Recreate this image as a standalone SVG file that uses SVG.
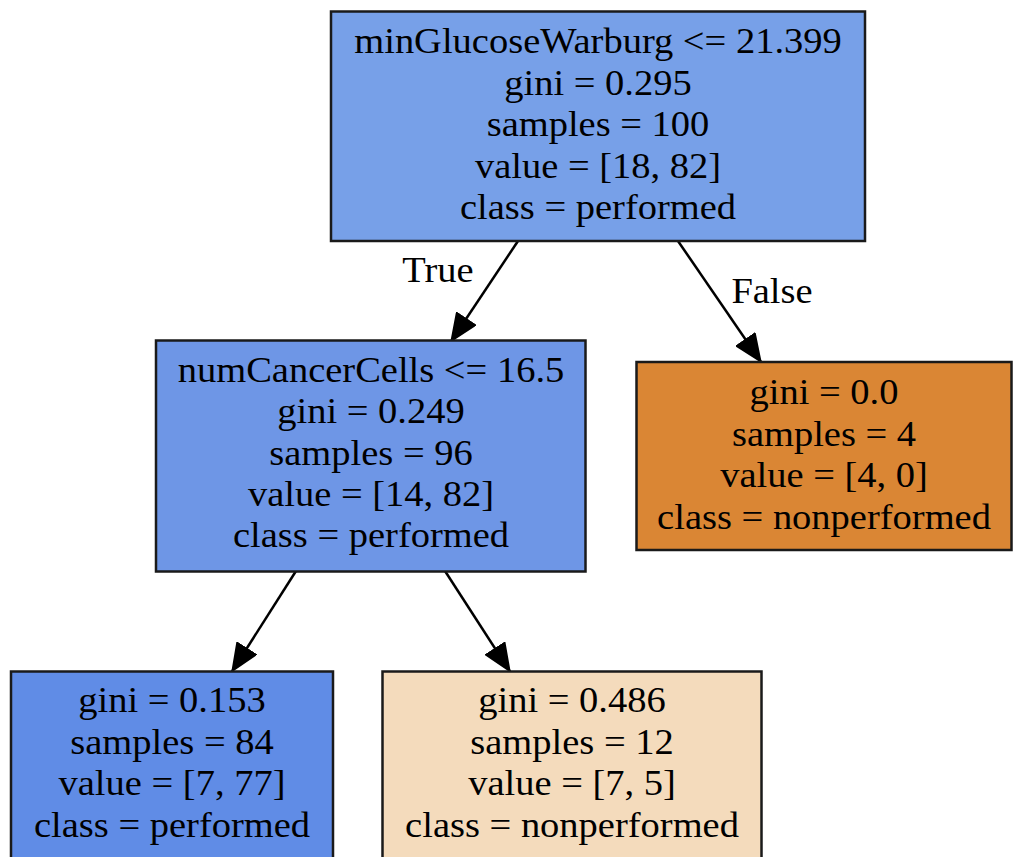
<svg xmlns="http://www.w3.org/2000/svg" width="1013" height="857" viewBox="0 0 1013 857">
<style>
.box{stroke:#1a1a1a;stroke-width:2.5}
.t{font-family:"Liberation Serif","Times New Roman",serif;font-size:35px;fill:#000;text-anchor:middle}
.e{stroke:#000;stroke-width:2.5;fill:none}
</style>
<defs>
<marker id="arr" markerUnits="userSpaceOnUse" viewBox="0 0 28 24" refX="28" refY="12" markerWidth="28" markerHeight="24" orient="auto">
<path d="M1,1 L27,12 L1,23 z" fill="#000" stroke="#000" stroke-width="2"/>
</marker>
</defs>
<rect width="1013" height="857" fill="#fff"/>
<g id="edges">
<line class="e" x1="518" y1="241" x2="451" y2="341.5" marker-end="url(#arr)"/>
<line class="e" x1="678" y1="241" x2="761" y2="362" marker-end="url(#arr)"/>
<line class="e" x1="296" y1="571" x2="232" y2="671.5" marker-end="url(#arr)"/>
<line class="e" x1="445" y1="571" x2="510" y2="671.5" marker-end="url(#arr)"/>
<text class="t" transform="translate(438,282) scale(1.1,1)">True</text>
<text class="t" transform="translate(772,303) scale(1.1,1)">False</text>
</g>
<g id="node0">
<rect class="box" x="331" y="11.5" width="534" height="229.5" fill="#77a0e8"/>
<text class="t" transform="translate(598,53) scale(1.1,1)">minGlucoseWarburg &lt;= 21.399</text>
<text class="t" transform="translate(598,94.5) scale(1.1,1)">gini = 0.295</text>
<text class="t" transform="translate(598,136) scale(1.1,1)">samples = 100</text>
<text class="t" transform="translate(598,177.5) scale(1.1,1)">value = [18, 82]</text>
<text class="t" transform="translate(598,219) scale(1.1,1)">class = performed</text>
</g>
<g id="node1">
<rect class="box" x="156" y="340.5" width="429.5" height="231" fill="#6e96e6"/>
<text class="t" transform="translate(371,382) scale(1.1,1)">numCancerCells &lt;= 16.5</text>
<text class="t" transform="translate(371,423.3) scale(1.1,1)">gini = 0.249</text>
<text class="t" transform="translate(371,464.5) scale(1.1,1)">samples = 96</text>
<text class="t" transform="translate(371,505.8) scale(1.1,1)">value = [14, 82]</text>
<text class="t" transform="translate(371,547) scale(1.1,1)">class = performed</text>
</g>
<g id="node2">
<rect class="box" x="11" y="671.5" width="322" height="190" fill="#608ce6"/>
<text class="t" transform="translate(172,712) scale(1.1,1)">gini = 0.153</text>
<text class="t" transform="translate(172,753.5) scale(1.1,1)">samples = 84</text>
<text class="t" transform="translate(172,795) scale(1.1,1)">value = [7, 77]</text>
<text class="t" transform="translate(172,836.5) scale(1.1,1)">class = performed</text>
</g>
<g id="node3">
<rect class="box" x="382.5" y="671.5" width="379" height="190" fill="#f4dbbc"/>
<text class="t" transform="translate(572,712) scale(1.1,1)">gini = 0.486</text>
<text class="t" transform="translate(572,753.5) scale(1.1,1)">samples = 12</text>
<text class="t" transform="translate(572,795) scale(1.1,1)">value = [7, 5]</text>
<text class="t" transform="translate(572,836.5) scale(1.1,1)">class = nonperformed</text>
</g>
<g id="node4">
<rect class="box" x="636.5" y="362" width="375" height="188" fill="#da8634"/>
<text class="t" transform="translate(824,404) scale(1.1,1)">gini = 0.0</text>
<text class="t" transform="translate(824,445.5) scale(1.1,1)">samples = 4</text>
<text class="t" transform="translate(824,487) scale(1.1,1)">value = [4, 0]</text>
<text class="t" transform="translate(824,528.5) scale(1.1,1)">class = nonperformed</text>
</g>
</svg>
